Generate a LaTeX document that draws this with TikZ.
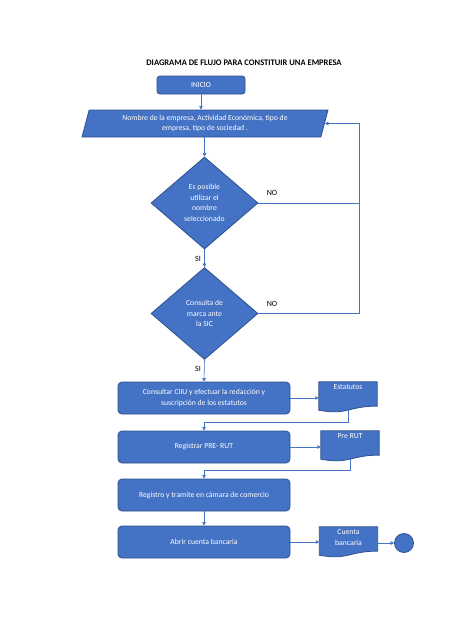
\documentclass[tikz,border=0pt]{standalone}
\usepackage{fontspec}
\setmainfont{Carlito}
\usetikzlibrary{shapes.geometric,arrows.meta,calc}
\definecolor{ofblue}{HTML}{4472C4}
\definecolor{ofedge}{HTML}{2F528F}
\newcommand\mydocshape[1]{%
  \filldraw[fill=ofblue, draw=ofedge, line width=0.8pt]
    (#1.north west) -- (#1.north east)
    -- ($(#1.north east)!0.8!(#1.south east)$)
    .. controls ($(#1.north)!0.8!(#1.south)$) and ($(#1.north)!1.107!(#1.south)$)
    .. ($(#1.north west)!0.934!(#1.south west)$) -- cycle;}
\begin{document}
\begin{tikzpicture}[x=1pt,y=-1pt,
  font=\fontsize{7.7}{10.7}\selectfont,
  base/.style={fill=ofblue, draw=ofedge, line width=0.8pt, text=white, align=center},
  procbox/.style={base, rectangle, rounded corners=4pt, minimum width=172pt, minimum height=32pt, inner sep=1pt},
  startbox/.style={base, rectangle, rounded corners=3pt, minimum width=88pt, minimum height=18pt, inner sep=1pt},
  databox/.style={base, trapezium, trapezium left angle=75, trapezium right angle=105, trapezium stretches=true, minimum width=246pt, minimum height=27pt, inner sep=1pt},
  decision/.style={base, diamond, minimum width=107pt, minimum height=92pt, inner sep=0pt},
  docnode/.style={rectangle, minimum width=58pt, minimum height=30pt, inner sep=0pt},
  doctext/.style={text=white, align=center, anchor=north, inner sep=2.5pt},
  endnode/.style={base, circle, minimum size=19pt, inner sep=0pt},
  lbl/.style={text=black, font=\fontsize{8}{9}\selectfont},
  link/.style={draw=ofblue, line width=0.6pt},
  conn/.style={link, -{Triangle[length=3.5pt,width=3.5pt]}}]
\fill[white] (0,0) rectangle (474,632);
\useasboundingbox (0,0) rectangle (474,632);

\node[font=\bfseries\fontsize{8.5}{9}\selectfont] (title) at (244,63) {DIAGRAMA DE FLUJO PARA CONSTITUIR UNA EMPRESA};

\node[startbox] (inicio) at (201,85) {INICIO};
\node[databox] (para) at (205,123.5) {Nombre de la empresa, Actividad Económica, tipo de\\empresa, tipo de sociedad .};
\node[decision] (d1) at (204.5,203) {Es posible\\utilizar el\\nombre\\seleccionado};
\node[decision] (d2) at (204.5,313.5) {Consulta de\\marca ante\\la SIC};
\node[procbox] (box1) at (204,398) {Consultar CIIU y efectuar la redacción y\\suscripción de los estatutos};
\node[procbox] (box2) at (204,447) {Registrar PRE- RUT};
\node[procbox] (box3) at (204,495) {Registro y tramite en cámara de comercio};
\node[procbox] (box4) at (204,542) {Abrir cuenta bancaria};

\node[docnode] (estat) at (348,397) {};
\node[docnode] (prerut) at (350,446) {};
\node[docnode] (cuenta) at (348.5,542) {};
\mydocshape{estat}
\mydocshape{prerut}
\mydocshape{cuenta}
\node[doctext] (estatT) at (estat.north) {Estatutos};
\node[doctext] (prerutT) at (prerut.north) {Pre RUT};
\node[doctext] (cuentaT) at (cuenta.north) {Cuenta\\bancaria};

\node[endnode] (fin) at (404,543) {};

\coordinate (rt) at (359,0);

\node[lbl] (no1) at (272,193) {NO};
\node[lbl] (no2) at (272,304) {NO};
\node[lbl] (si1) at (198,259) {SI};
\node[lbl] (si2) at (198,369) {SI};

\draw[conn] (inicio.south) -- (inicio.south |- para.north);
\draw[conn] (d1.north |- para.south) -- (d1.north);
\draw[conn] (d1.south) -- (d2.north);
\draw[link] (d1.east) -- (d1.east -| rt);
\draw[conn] (d2.east) -- (d2.east -| rt) -- (rt |- para.east) -- (para.east);
\draw[conn] (d2.south) -- (box1.north);
\draw[conn] (box1.east) -- (box1.east -| estat.west);
\draw[conn] ($(estat.north)!0.93!(estat.south)$) -- ++(0,12) -| (box2.north);
\draw[conn] (box2.east) -- (box2.east -| prerut.west);
\draw[conn] ($(prerut.north)!0.93!(prerut.south)$) -- ++(0,11) -| (box3.north);
\draw[conn] (box3.south) -- (box4.north);
\draw[conn] (box4.east) -- (box4.east -| cuenta.west);
\draw[conn] (fin -| cuenta.east) -- (fin.west);
\end{tikzpicture}
\end{document}
